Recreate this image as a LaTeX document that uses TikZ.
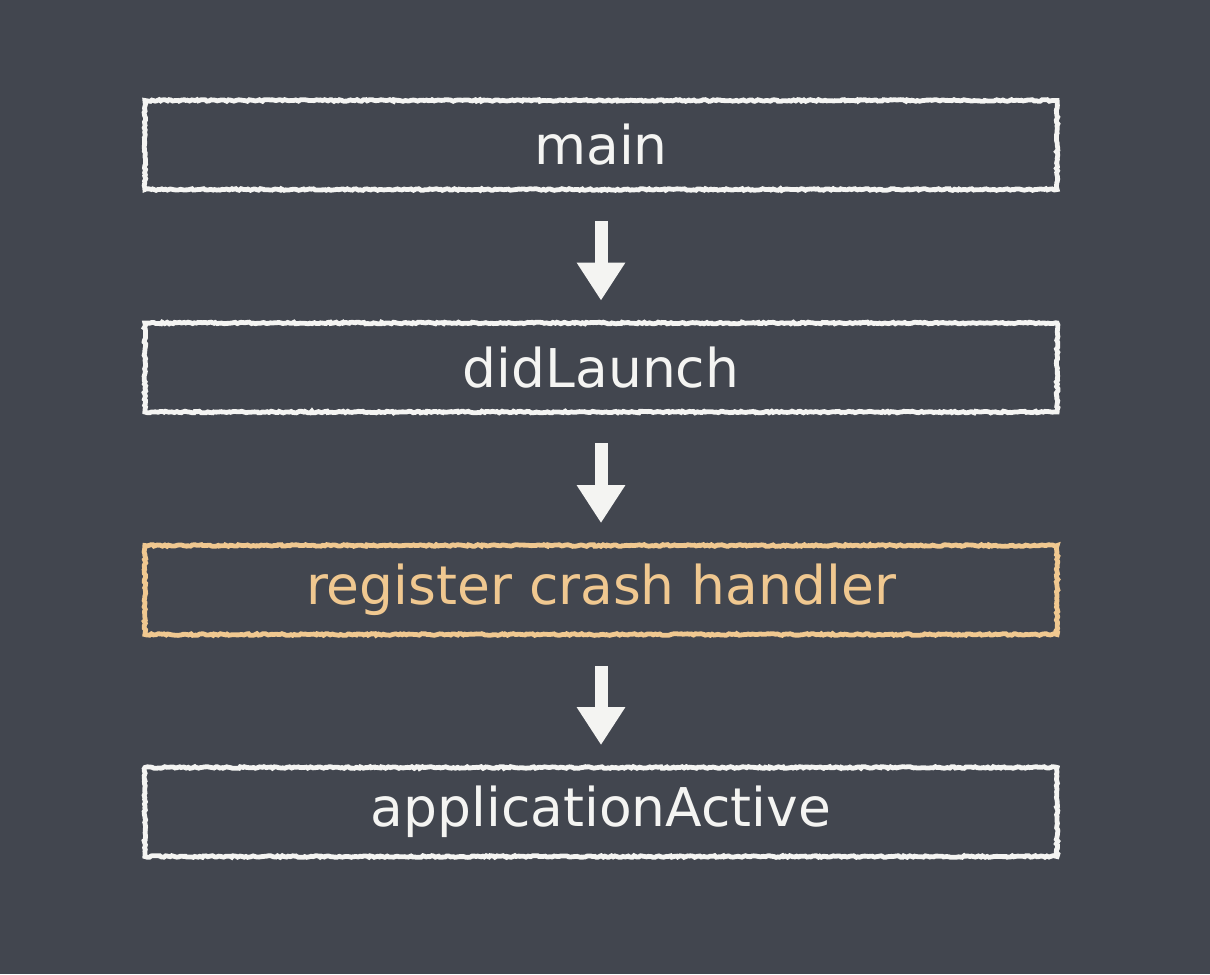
\documentclass[tikz,border=0pt]{standalone}
\usepackage{fontspec}
\setmainfont{DejaVu Sans}
\usepackage{xcolor}
\usetikzlibrary{arrows.meta, positioning, decorations.pathmorphing}
\definecolor{lousa}{HTML}{42464F}
\definecolor{giz}{HTML}{F4F4F2}
\definecolor{gizlaranja}{HTML}{F0C890}

\begin{document}
\begin{tikzpicture}[
    x=0.025cm, y=-0.025cm,
    etapa/.style={draw=giz, line width=0.12cm, minimum width=22.8cm, minimum height=2.225cm,
        text=giz, font=\fontsize{38}{44}\selectfont,
        decorate, decoration={random steps, segment length=1.5pt, amplitude=0.6pt}},
    destaque/.style={draw=gizlaranja, text=gizlaranja},
    seta/.style={draw=giz, line width=0.325cm, shorten <=0.725cm, shorten >=0.5cm,
        -{Triangle[length=0.95cm, width=1.15cm]}}
]
    \fill[lousa] (0,0) rectangle (1210,974);

    \node[etapa] (main)      at (601,145)   {main};
    \node[etapa] (didlaunch) at (601,367.5) {didLaunch};
    \node[etapa, destaque] (crash) at (601,590) {register crash handler};
    \node[etapa] (active)    at (601,812)   {applicationActive};

    \draw[seta] (main) -- (didlaunch);
    \draw[seta] (didlaunch) -- (crash);
    \draw[seta] (crash) -- (active);
\end{tikzpicture}
\end{document}
